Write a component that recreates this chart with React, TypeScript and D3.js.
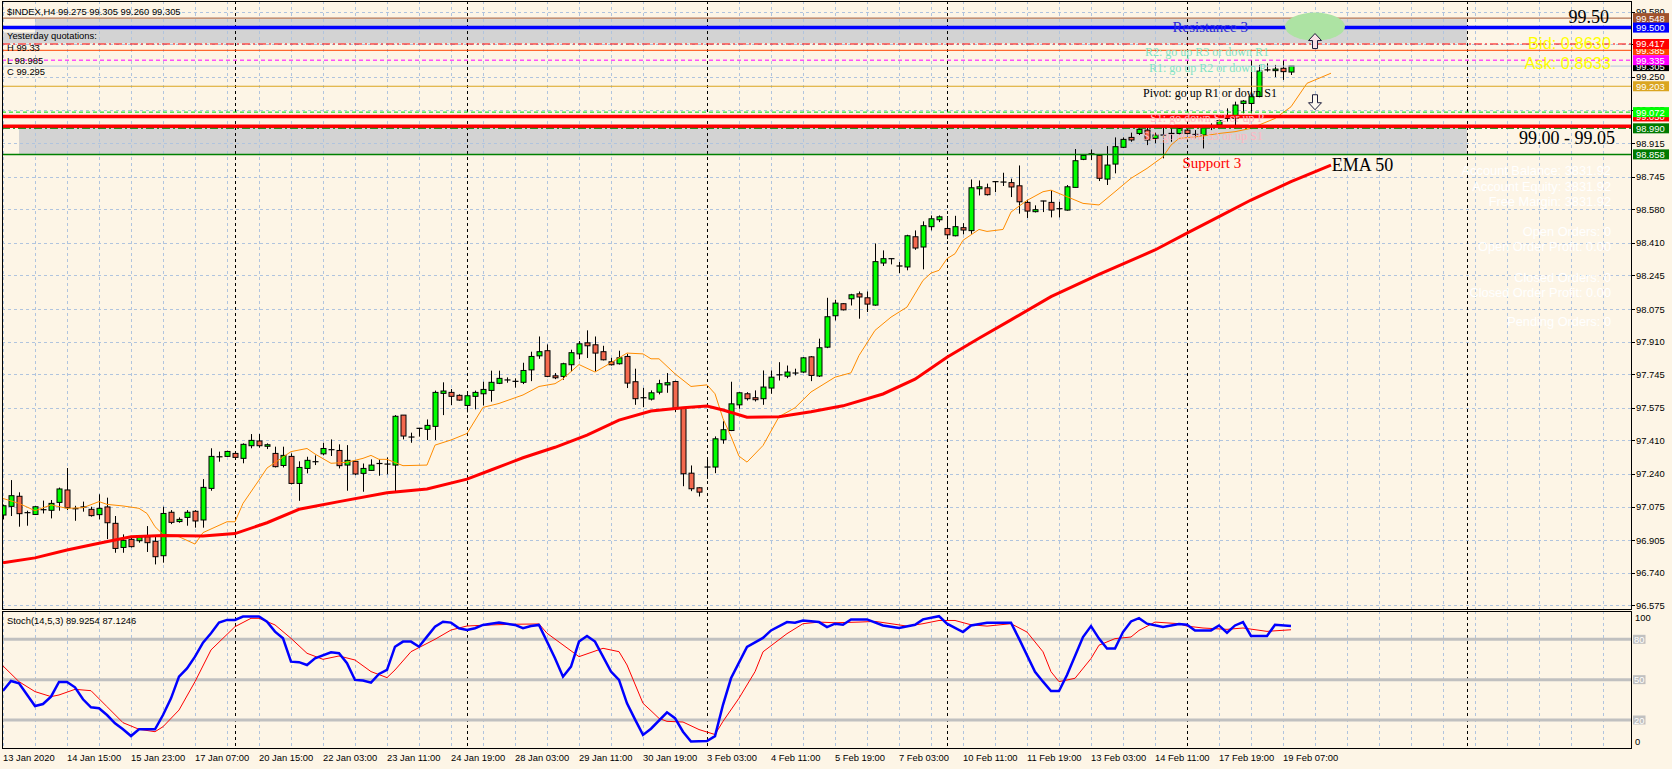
import React from 'react';
import * as d3 from 'd3';

// H4 candles, bar 0 = 13 Jan 2020, bar 161 = 19 Feb 2020 11:00
const opens = [
  97.032, 97.076, 97.127, 97.044, 97.035, 97.057, 97.056, 97.096, 97.159, 97.064,
  97.069, 97.061, 97.034, 97.073, 96.990, 96.868, 96.909, 96.902, 96.922, 96.899,
  96.826, 97.046, 96.999, 97.020, 97.051, 97.007, 97.167, 97.327, 97.329, 97.344,
  97.319, 97.383, 97.407, 97.380, 97.344, 97.283, 97.329, 97.192, 97.268, 97.300,
  97.342, 97.363, 97.359, 97.285, 97.304, 97.243, 97.258, 97.292, 97.290, 97.285,
  97.538, 97.427, 97.469, 97.466, 97.481, 97.648, 97.653, 97.638, 97.587, 97.633,
  97.646, 97.663, 97.699, 97.714, 97.709, 97.704, 97.767, 97.838, 97.864, 97.737,
  97.734, 97.793, 97.848, 97.904, 97.894, 97.859, 97.808, 97.798, 97.835, 97.707,
  97.626, 97.619, 97.654, 97.691, 97.708, 97.575, 97.244, 97.170, 97.273, 97.275,
  97.413, 97.460, 97.590, 97.646, 97.626, 97.621, 97.675, 97.740, 97.735, 97.749,
  97.756, 97.833, 97.736, 97.882, 98.041, 98.102, 98.127, 98.152, 98.132, 98.095,
  98.308, 98.330, 98.293, 98.288, 98.441, 98.389, 98.492, 98.527, 98.483, 98.446,
  98.487, 98.472, 98.684, 98.689, 98.720, 98.716, 98.715, 98.699, 98.615, 98.568,
  98.620, 98.615, 98.583, 98.576, 98.691, 98.833, 98.860, 98.853, 98.733, 98.809,
  98.894, 98.944, 98.964, 98.981, 98.939, 98.954, 98.963, 98.964, 98.981, 98.958,
  98.956, 99.000, 99.007, 99.039, 99.040, 99.116, 99.116, 99.151, 99.284, 99.282,
  99.294, 99.275,
];
const highs = [
  97.085, 97.209, 97.147, 97.054, 97.078, 97.105, 97.108, 97.171, 97.270, 97.079,
  97.100, 97.074, 97.137, 97.120, 97.027, 96.934, 96.922, 96.931, 96.976, 96.922,
  97.074, 97.057, 97.020, 97.057, 97.057, 97.214, 97.370, 97.353, 97.358, 97.353,
  97.395, 97.442, 97.442, 97.395, 97.378, 97.378, 97.344, 97.304, 97.327, 97.334,
  97.398, 97.415, 97.390, 97.386, 97.307, 97.293, 97.314, 97.314, 97.324, 97.538,
  97.538, 97.449, 97.472, 97.516, 97.662, 97.704, 97.670, 97.643, 97.648, 97.662,
  97.707, 97.763, 97.763, 97.729, 97.724, 97.803, 97.859, 97.936, 97.896, 97.751,
  97.803, 97.869, 97.913, 97.967, 97.936, 97.889, 97.828, 97.864, 97.848, 97.773,
  97.676, 97.663, 97.717, 97.751, 97.712, 97.578, 97.283, 97.173, 97.317, 97.430,
  97.507, 97.707, 97.654, 97.654, 97.663, 97.764, 97.764, 97.806, 97.789, 97.773,
  97.832, 97.837, 97.925, 98.132, 98.122, 98.105, 98.152, 98.164, 98.164, 98.407,
  98.372, 98.331, 98.313, 98.451, 98.473, 98.519, 98.549, 98.549, 98.546, 98.547,
  98.510, 98.731, 98.726, 98.710, 98.721, 98.765, 98.735, 98.802, 98.628, 98.600,
  98.623, 98.677, 98.618, 98.703, 98.885, 98.858, 98.883, 98.858, 98.900, 98.944,
  98.944, 98.968, 98.998, 99.000, 98.968, 99.000, 99.000, 98.995, 99.000, 98.981,
  99.007, 99.015, 99.035, 99.091, 99.125, 99.133, 99.336, 99.311, 99.319, 99.311,
  99.336, 99.305,
];
const lows = [
  97.010, 97.027, 96.973, 96.978, 97.032, 97.040, 97.015, 97.054, 97.057, 97.003,
  97.049, 97.024, 97.010, 96.910, 96.841, 96.841, 96.868, 96.892, 96.845, 96.782,
  96.791, 96.986, 96.993, 96.978, 96.968, 96.968, 97.155, 97.302, 97.327, 97.319,
  97.294, 97.370, 97.373, 97.366, 97.273, 97.273, 97.187, 97.104, 97.243, 97.285,
  97.334, 97.331, 97.268, 97.155, 97.234, 97.150, 97.256, 97.231, 97.238, 97.147,
  97.415, 97.398, 97.429, 97.412, 97.412, 97.538, 97.589, 97.611, 97.552, 97.567,
  97.587, 97.606, 97.695, 97.702, 97.677, 97.695, 97.710, 97.823, 97.730, 97.720,
  97.717, 97.759, 97.821, 97.827, 97.759, 97.815, 97.789, 97.794, 97.675, 97.590,
  97.578, 97.612, 97.643, 97.651, 97.553, 97.178, 97.153, 97.126, 97.215, 97.244,
  97.393, 97.457, 97.570, 97.612, 97.607, 97.590, 97.646, 97.713, 97.725, 97.739,
  97.752, 97.710, 97.731, 97.877, 98.017, 98.068, 98.093, 98.026, 98.060, 98.092,
  98.293, 98.301, 98.257, 98.271, 98.375, 98.276, 98.473, 98.515, 98.429, 98.443,
  98.453, 98.456, 98.650, 98.650, 98.667, 98.698, 98.642, 98.558, 98.536, 98.564,
  98.566, 98.539, 98.539, 98.573, 98.691, 98.829, 98.829, 98.723, 98.703, 98.762,
  98.890, 98.922, 98.956, 98.905, 98.914, 98.838, 98.922, 98.956, 98.944, 98.939,
  98.888, 98.981, 98.995, 99.024, 98.990, 99.066, 99.066, 99.147, 99.277, 99.249,
  99.235, 99.260,
];
const closes = [
  97.079, 97.130, 97.039, 97.042, 97.074, 97.059, 97.091, 97.164, 97.069, 97.062,
  97.073, 97.029, 97.066, 96.993, 96.863, 96.904, 96.872, 96.921, 96.892, 96.821,
  97.040, 96.995, 97.010, 97.046, 97.002, 97.172, 97.329, 97.326, 97.354, 97.324,
  97.390, 97.410, 97.383, 97.388, 97.277, 97.334, 97.192, 97.273, 97.309, 97.302,
  97.369, 97.363, 97.282, 97.309, 97.240, 97.268, 97.285, 97.293, 97.290, 97.532,
  97.432, 97.427, 97.471, 97.486, 97.653, 97.660, 97.633, 97.614, 97.636, 97.653,
  97.668, 97.704, 97.724, 97.716, 97.707, 97.764, 97.835, 97.859, 97.734, 97.727,
  97.798, 97.854, 97.899, 97.889, 97.852, 97.818, 97.793, 97.828, 97.700, 97.621,
  97.626, 97.651, 97.697, 97.702, 97.570, 97.241, 97.165, 97.148, 97.275, 97.418,
  97.464, 97.595, 97.651, 97.621, 97.616, 97.680, 97.730, 97.742, 97.756, 97.751,
  97.828, 97.739, 97.879, 98.036, 98.105, 98.071, 98.147, 98.136, 98.100, 98.315,
  98.330, 98.328, 98.293, 98.446, 98.384, 98.497, 98.532, 98.542, 98.451, 98.492,
  98.475, 98.689, 98.694, 98.654, 98.718, 98.718, 98.693, 98.618, 98.571, 98.578,
  98.622, 98.576, 98.581, 98.694, 98.826, 98.853, 98.861, 98.737, 98.804, 98.897,
  98.934, 98.931, 98.985, 98.931, 98.956, 98.956, 98.964, 98.990, 98.964, 98.959,
  98.998, 99.002, 99.029, 99.040, 99.108, 99.128, 99.150, 99.280, 99.286, 99.290,
  99.277, 99.305,
];

// moving averages (drawn 5 bars forward), [bar, price]
const ema50: [number, number][] = [
  [0, 96.79], [4, 96.815], [8, 96.855], [12, 96.889], [16, 96.922], [20, 96.929], [25, 96.926],
  [29, 96.938], [33, 96.993], [37, 97.061], [42, 97.1], [48, 97.145], [53, 97.164], [58, 97.214],
  [61, 97.26], [65, 97.322], [69, 97.375], [73, 97.437], [77, 97.513], [81, 97.559], [85, 97.575],
  [88, 97.584], [90, 97.564], [93, 97.527], [97, 97.53], [101, 97.555], [105, 97.585], [110, 97.645],
  [114, 97.72], [118, 97.831], [122, 97.927], [126, 98.02], [131, 98.138], [137, 98.25],
  [144, 98.374], [148, 98.459], [152, 98.543], [156, 98.627], [161, 98.72], [166, 98.804],
];
const emaFast: [number, number][] = [
  [0, 97.116], [2, 97.091], [4, 97.054], [6, 97.083], [8, 97.066], [10, 97.069], [12, 97.1],
  [13, 97.086], [15, 97.078], [17, 97.066], [18, 97.04], [19, 96.973], [20, 96.934], [22, 96.922],
  [24, 96.885], [25, 96.943], [28, 96.998], [29, 96.998], [30, 97.091], [32, 97.209], [33, 97.27],
  [36, 97.353], [38, 97.369], [39, 97.341], [41, 97.294], [43, 97.299], [45, 97.319], [46, 97.334],
  [47, 97.314], [48, 97.314], [50, 97.282], [53, 97.285], [54, 97.386], [56, 97.412], [58, 97.445],
  [60, 97.577], [62, 97.597], [65, 97.64], [67, 97.683], [69, 97.697], [70, 97.722], [72, 97.794],
  [74, 97.756], [76, 97.803], [78, 97.852], [80, 97.848], [81, 97.823], [82, 97.823], [84, 97.747],
  [86, 97.683], [88, 97.691], [89, 97.646], [90, 97.52], [91, 97.43], [92, 97.33], [93, 97.3],
  [95, 97.384], [97, 97.53], [99, 97.575], [101, 97.655], [104, 97.73], [106, 97.752], [107, 97.84],
  [109, 97.967], [111, 98.034], [113, 98.085], [115, 98.22], [116, 98.257], [117, 98.271],
  [118, 98.33], [119, 98.355], [120, 98.423], [122, 98.478], [123, 98.468], [125, 98.478],
  [126, 98.566], [128, 98.625], [130, 98.669], [131, 98.677], [134, 98.627], [135, 98.61],
  [137, 98.602], [139, 98.669], [141, 98.737], [143, 98.787], [145, 98.846], [146, 98.905],
  [147, 98.939], [150, 98.951], [152, 98.964], [154, 98.973], [156, 98.99], [159, 99.04],
  [161, 99.099], [163, 99.218], [166, 99.269],
];

// Stoch(14,5,3), [bar, value]
const stochMain: [number, number][] = [
  [0, 41.8], [1, 49.0], [2, 47.3], [4, 30.4], [5, 31.9], [6, 37.4], [7, 48.3], [8, 48.3], [9, 44.3],
  [10, 35.4], [11, 29.4], [12, 28.7], [13, 23.7], [14, 17.5], [15, 13.1], [16, 8.1], [17, 13.1],
  [19, 13.1], [20, 23.7], [21, 36.1], [22, 52.2], [23, 58.4], [24, 67.1], [25, 77.5], [26, 84.5],
  [27, 92.4], [28, 94.4], [29, 94.4], [30, 96.9], [32, 96.9], [33, 93.1], [34, 85.7], [35, 80.7],
  [36, 63.4], [37, 63.0], [38, 60.9], [39, 65.9], [41, 70.3], [42, 69.6], [43, 62.2], [44, 49.8],
  [45, 49.3], [46, 47.8], [47, 54.2], [48, 57.2], [49, 74.5], [50, 78.3], [51, 78.3], [52, 74.5],
  [53, 82.0], [54, 89.4], [55, 93.1], [56, 92.4], [57, 88.2], [58, 86.9], [59, 88.2], [60, 90.7],
  [62, 92.4], [64, 90.7], [65, 88.2], [66, 89.9], [67, 90.7], [69, 65.9], [70, 52.2], [71, 59.7],
  [72, 78.3], [73, 82.5], [74, 78.3], [76, 56.0], [77, 49.8], [78, 32.4], [79, 20.5], [80, 8.9],
  [81, 13.5], [83, 25.7], [84, 21.4], [85, 11.3], [86, 4.0], [88, 4.3], [89, 8.0], [90, 31.3],
  [91, 51.0], [93, 74.3], [95, 81.0], [96, 86.6], [98, 92.8], [99, 92.3], [100, 94.0], [102, 92.8],
  [103, 89.1], [104, 91.6], [105, 90.8], [106, 94.8], [108, 94.8], [110, 90.3], [112, 88.4],
  [114, 90.8], [115, 94.8], [117, 97.2], [118, 91.6], [120, 85.4], [121, 90.3], [123, 92.3],
  [126, 92.3], [127, 80.5], [129, 55.9], [130, 48.5], [131, 41.6], [132, 41.6], [133, 53.4],
  [135, 81.7], [136, 89.8], [137, 80.5], [138, 73.1], [139, 73.1], [140, 85.4], [141, 93.3],
  [142, 95.7], [143, 91.6], [145, 89.1], [147, 91.3], [148, 90.8], [149, 86.6], [151, 86.6],
  [152, 90.3], [153, 84.9], [154, 90.3], [155, 92.8], [156, 82.5], [158, 82.5], [159, 90.8],
  [161, 89.9],
];
const stochSignal: [number, number][] = [
  [0, 60.2], [2, 48.5], [4, 41.1], [6, 37.4], [7, 38.6], [9, 42.8], [11, 41.8], [13, 29.9],
  [15, 18.0], [17, 13.1], [19, 11.3], [20, 15.0], [22, 27.4], [24, 48.5], [26, 72.1], [29, 89.4],
  [31, 95.6], [32, 95.6], [34, 90.7], [36, 80.7], [38, 69.6], [40, 65.1], [42, 67.6], [44, 64.6],
  [46, 56.0], [48, 51.5], [49, 57.2], [51, 70.8], [54, 80.0], [56, 86.9], [58, 89.9], [61, 90.7],
  [64, 91.2], [67, 91.4], [68, 84.5], [70, 75.8], [72, 67.1], [75, 73.3], [77, 70.8], [78, 60.9],
  [80, 32.4], [81, 26.9], [82, 21.2], [83, 19.0], [85, 18.5], [87, 12.9], [89, 9.2], [90, 19.0],
  [92, 36.2], [94, 55.9], [95, 70.7], [98, 84.2], [100, 91.6], [102, 92.8], [104, 92.3],
  [107, 92.8], [109, 93.3], [111, 91.6], [113, 89.8], [115, 91.6], [117, 94.0], [119, 94.0],
  [121, 90.8], [123, 89.8], [126, 91.6], [128, 85.4], [130, 70.7], [131, 55.9], [132, 48.5],
  [134, 51.0], [136, 65.7], [137, 75.6], [139, 80.5], [141, 81.7], [142, 86.6], [144, 92.8],
  [147, 91.6], [148, 89.8], [150, 88.4], [153, 87.4], [155, 88.4], [158, 85.9], [161, 87.1],
];
const stochLevels = [80, 50, 20];

const timeLabels = [
  '13 Jan 2020', '14 Jan 15:00', '15 Jan 23:00', '17 Jan 07:00', '20 Jan 15:00', '22 Jan 03:00',
  '23 Jan 11:00', '24 Jan 19:00', '28 Jan 03:00', '29 Jan 11:00', '30 Jan 19:00', '3 Feb 03:00',
  '4 Feb 11:00', '5 Feb 19:00', '7 Feb 03:00', '10 Feb 11:00', '11 Feb 19:00', '13 Feb 03:00',
  '14 Feb 11:00', '17 Feb 19:00', '19 Feb 07:00',
];
const timeLabelBars = [0, 8, 16, 24, 32, 40, 48, 56, 64, 72, 80, 88, 96, 104, 112, 120, 128, 136, 144, 152, 160];
const weekStartBars = [29, 58, 88, 118, 148, 183];

const priceTicks = [
  '96.575', '96.740', '96.905', '97.075', '97.240', '97.410', '97.575', '97.745', '97.910', '98.075',
  '98.245', '98.410', '98.580', '98.745', '98.915', '99.085', '99.250', '99.415', '99.580',
];

// horizontal chart objects
const levelPrices = [99.548, 99.5, 99.417, 99.385, 99.335, 99.305, 99.203, 99.072, 99.05, 99.0, 98.99, 98.858];
const levelStyles = [
  { c: '#A0522D', w: 1, d: '' },
  { c: '#0000FF', w: 3.5, d: '' },
  { c: '#FF0000', w: 1, d: '8,3,2,3' },
  { c: '#FF4500', w: 1, d: '' },
  { c: '#FF00FF', w: 1, d: '4,3' },
  { c: '#B0C4DE', w: 1, d: '' },
  { c: '#DAA520', w: 1, d: '' },
  { c: '#00E000', w: 1, d: '4,3' },
  { c: '#FF0000', w: 3.5, d: '' },
  { c: '#FF0000', w: 3.5, d: '' },
  { c: '#008000', w: 1, d: '8,3,2,3' },
  { c: '#008000', w: 1.5, d: '' },
];
// right-axis price boxes, in drawing order
const boxPrices = ['99.548', '99.500', '99.385', '99.417', '99.305', '99.335', '99.203', '99.050', '99.072', '98.990', '98.858'];
const boxColors = ['#A0522D', '#0000FF', '#FF4500', '#FF0000', '#000000', '#FF00FF', '#DAA520', '#FF0000', '#00FF00', '#007A00', '#007A00'];

// shaded zones [fromBar, toBar, priceTop, priceBottom]
const zones: [number, number, number, number][] = [
  [4, 183, 99.543, 99.42],
  [2, 183, 98.996, 98.86],
];

const infoLines = [
  'Account Balance: 3831.92', 'Account Equity: 3831.92', 'Free Margin: 3831.92',
  'Open Orders: 0', 'Open Order Profit: 0.00', 'Closed Orders: 0', 'Closed Order Profit: 0.00',
  'Pending Orders: 0',
];
const infoY = [170.5, 186, 201.5, 231.5, 246.5, 277, 292, 321.5];

const sans = "'Liberation Sans', Arial, sans-serif";
const serif = "'Liberation Serif', 'Times New Roman', serif";

const W = 1672;
const H = 769;
const plot = { left: 2, right: 1631, top: 1, bottom: 609 };
const sub = { top: 611, bottom: 748 };

const App: React.FC = () => {
  const x = d3.scaleLinear().domain([0, 161]).range([3, 1291]);
  const y = d3.scaleLinear().domain([96.575, 98.58]).range([605.3, 209.3]);
  const ys = d3.scaleLinear().domain([0, 100]).range([746.9, 612.4]);

  const gridBars = d3.range(0, 210, 4).filter(b => x(b) < plot.right);
  const priceLine = d3.line<[number, number]>().x(d => x(d[0])).y(d => y(d[1]));
  const oscLine = d3.line<[number, number]>().x(d => x(d[0])).y(d => ys(d[1]));

  const notes = [
    { t: 'Resistance 3', b: 150.9, p: 99.502, a: 'middle', s: 15, c: '#2828D8' },
    { t: 'R2: go up R3 or down R1', b: 142.75, p: 99.378, a: 'start', s: 12, c: '#7FE3C4' },
    { t: 'R1: go up R2 or down P', b: 143.25, p: 99.294, a: 'start', s: 12, c: '#7FE3C4' },
    { t: 'Pivot: go up R1 or down S1', b: 142.5, p: 99.167, a: 'start', s: 12, c: '#000000' },
    { t: 'S1: go down S2 or up P', b: 143.4, p: 99.041, a: 'start', s: 12, c: '#FFB6C1' },
    { t: 'S2: go down S3 or up S1', b: 142.5, p: 98.951, a: 'start', s: 12, c: '#FFB6C1' },
    { t: 'Support 3', b: 151.1, p: 98.812, a: 'middle', s: 15, c: '#FF0000' },
    { t: 'EMA 50', b: 166.1, p: 98.804, a: 'start', s: 18, c: '#000000' },
    { t: '99.50', b: 200.75, p: 99.552, a: 'end', s: 18, c: '#000000' },
    { t: '99.00 - 99.05', b: 201.5, p: 98.94, a: 'end', s: 18, c: '#000000' },
  ];

  const arrow = (cx: number, top: number, up: boolean) => {
    const h = 15, hw = 6.5, sw = 2.5, head = 7;
    if (up) {
      return `M${cx},${top} L${cx + hw},${top + head} L${cx + sw},${top + head} L${cx + sw},${top + h} L${cx - sw},${top + h} L${cx - sw},${top + head} L${cx - hw},${top + head} Z`;
    }
    return `M${cx},${top + h} L${cx + hw},${top + h - head} L${cx + sw},${top + h - head} L${cx + sw},${top} L${cx - sw},${top} L${cx - sw},${top + h - head} L${cx - hw},${top + h - head} Z`;
  };

  return (
    <svg width={W} height={H} style={{ position: 'absolute', left: 0, top: 0, display: 'block' }}>
      <defs>
        <clipPath id="mainClip">
          <rect x={plot.left} y={plot.top} width={plot.right - plot.left} height={plot.bottom - plot.top} />
        </clipPath>
        <clipPath id="subClip">
          <rect x={plot.left} y={sub.top} width={plot.right - plot.left} height={sub.bottom - sub.top} />
        </clipPath>
      </defs>
      <rect x={0} y={0} width={W} height={H} fill="#FDF5E6" />

      {/* main panel */}
      <g clipPath="url(#mainClip)">
        {zones.map((z, i) => (
          <rect key={i} x={x(z[0])} y={y(z[2])} width={x(z[1]) - x(z[0])} height={y(z[3]) - y(z[2])} fill="#D3D3D3" />
        ))}
        <rect x={plot.left} y={y(99.475)} width={x(4) - plot.left} height={y(99.42) - y(99.475)} fill="#D3D3D3" />

        {priceTicks.map(t => (
          <line key={t} x1={plot.left} x2={plot.right} y1={Math.round(y(+t)) + 0.5} y2={Math.round(y(+t)) + 0.5}
            stroke="#B0C4DE" strokeDasharray="3,3" />
        ))}
        {gridBars.map(b => (
          <line key={b} x1={x(b) + 0.5} x2={x(b) + 0.5} y1={plot.top} y2={plot.bottom} stroke="#B0C4DE" strokeDasharray="3,3" />
        ))}
        {weekStartBars.map(b => (
          <line key={b} x1={x(b) + 0.5} x2={x(b) + 0.5} y1={plot.top} y2={plot.bottom} stroke="#000" strokeDasharray="3,3" />
        ))}

        {opens.map((o, i) => {
          const c = closes[i];
          const cx = x(i) + 0.5;
          const top = y(Math.max(o, c));
          const bot = y(Math.min(o, c));
          const bull = c >= o;
          return (
            <g key={i}>
              <line x1={cx} x2={cx} y1={y(highs[i])} y2={y(lows[i])} stroke="#000" />
              {bot - top < 1.5 ? (
                <line x1={cx - 3} x2={cx + 3} y1={top} y2={top} stroke="#000" strokeWidth={1.2} />
              ) : (
                <rect x={cx - 2.5} y={top} width={5} height={bot - top} fill={bull ? '#00FF00' : '#F4694E'} stroke="#000" />
              )}
            </g>
          );
        })}

        <path d={priceLine(emaFast) || ''} fill="none" stroke="#FF8C00" strokeWidth={1} />
        <path d={priceLine(ema50) || ''} fill="none" stroke="#FF0000" strokeWidth={3} />

        {levelPrices.map((p, i) => (
          <line key={i} x1={plot.left} x2={plot.right} y1={y(p)} y2={y(p)} stroke={levelStyles[i].c}
            strokeWidth={levelStyles[i].w} strokeDasharray={levelStyles[i].d || undefined} />
        ))}

        <ellipse cx={x(164)} cy={y(99.505)} rx={30} ry={14} fill="#ADE3A3" />
        <path d={arrow(x(164), y(99.47), true)} fill="#FBE0E6" stroke="#1E1E3C" strokeWidth={1} />
        <path d={arrow(x(164), y(99.16), false)} fill="#FDF8EE" stroke="#1E1E3C" strokeWidth={1} />

        {notes.map(n => (
          <text key={n.t} x={x(n.b)} y={y(n.p)} textAnchor={n.a as any} dominantBaseline="central"
            fontFamily={serif} fontSize={n.s} fill={n.c}>{n.t}</text>
        ))}

        <text x={1611} y={42.7} textAnchor="end" dominantBaseline="central" fontFamily={sans} fontSize={16.4} fill="#FFFF00">Bid: 0.8630</text>
        <text x={1611} y={62.7} textAnchor="end" dominantBaseline="central" fontFamily={sans} fontSize={16.4} fill="#FFFF00">Ask: 0.8633</text>
        {infoLines.map((t, i) => (
          <text key={t} x={1611} y={infoY[i]} textAnchor="end" dominantBaseline="central" fontFamily={sans} fontSize={12.8} fill="#FFFFFF">{t}</text>
        ))}

        <text x={7} y={11} dominantBaseline="central" fontFamily={sans} fontSize={9.4} fill="#000">$INDEX,H4  99.275 99.305 99.260 99.305</text>
        <text x={7} y={35} dominantBaseline="central" fontFamily={sans} fontSize={9.4} fill="#000">Yesterday quotations:</text>
        <text x={7} y={47.3} dominantBaseline="central" fontFamily={sans} fontSize={9.4} fill="#000">H 99.33</text>
        <text x={7} y={60} dominantBaseline="central" fontFamily={sans} fontSize={9.4} fill="#000">L 98.985</text>
        <text x={7} y={71.7} dominantBaseline="central" fontFamily={sans} fontSize={9.4} fill="#000">C 99.295</text>
      </g>
      <rect x={plot.left + 0.5} y={plot.top + 0.5} width={plot.right - plot.left} height={plot.bottom - plot.top} fill="none" stroke="#000" />

      {/* price axis */}
      {priceTicks.map(t => (
        <g key={t}>
          <line x1={plot.right} x2={plot.right + 4} y1={Math.round(y(+t)) + 0.5} y2={Math.round(y(+t)) + 0.5} stroke="#000" />
          <text x={1636} y={y(+t)} dominantBaseline="central" fontFamily={sans} fontSize={9.4} fill="#000">{t}</text>
        </g>
      ))}
      {boxPrices.map((p, i) => (
        <g key={p}>
          <rect x={1633} y={y(+p) - 5} width={36} height={10} fill={boxColors[i]} />
          <text x={1636} y={y(+p)} dominantBaseline="central" fontFamily={sans} fontSize={9.4} fill="#FFFFFF">{p}</text>
        </g>
      ))}

      {/* stochastic panel */}
      <g clipPath="url(#subClip)">
        {gridBars.map(b => (
          <line key={b} x1={x(b) + 0.5} x2={x(b) + 0.5} y1={sub.top} y2={sub.bottom} stroke="#B0C4DE" strokeDasharray="3,3" />
        ))}
        {weekStartBars.map(b => (
          <line key={b} x1={x(b) + 0.5} x2={x(b) + 0.5} y1={sub.top} y2={sub.bottom} stroke="#000" strokeDasharray="3,3" />
        ))}
        {stochLevels.map(l => (
          <line key={l} x1={plot.left} x2={plot.right} y1={ys(l)} y2={ys(l)} stroke="#C0C0C0" strokeWidth={3} />
        ))}
        <path d={oscLine(stochSignal) || ''} fill="none" stroke="#FF0000" strokeWidth={1} />
        <path d={oscLine(stochMain) || ''} fill="none" stroke="#0000FF" strokeWidth={2.5} />
        <text x={7} y={620} dominantBaseline="central" fontFamily={sans} fontSize={9.4} fill="#000">Stoch(14,5,3) 89.9254 87.1246</text>
      </g>
      <rect x={plot.left + 0.5} y={sub.top + 0.5} width={plot.right - plot.left} height={sub.bottom - sub.top} fill="none" stroke="#000" />
      <text x={1635} y={617.3} dominantBaseline="central" fontFamily={sans} fontSize={9.4} fill="#000">100</text>
      <text x={1635} y={741.7} dominantBaseline="central" fontFamily={sans} fontSize={9.4} fill="#000">0</text>
      {stochLevels.map(l => (
        <g key={l}>
          <rect x={1633} y={ys(l) - 4.5} width={12.5} height={9} fill="#C0C0C0" />
          <text x={1634} y={ys(l)} dominantBaseline="central" fontFamily={sans} fontSize={9.4} fill="#FFFFFF">{l}</text>
        </g>
      ))}

      {/* time axis */}
      {timeLabels.map((t, i) => (
        <text key={t} x={x(timeLabelBars[i])} y={757} dominantBaseline="central" fontFamily={sans} fontSize={9.4} fill="#000">{t}</text>
      ))}
    </svg>
  );
};

export default App;
